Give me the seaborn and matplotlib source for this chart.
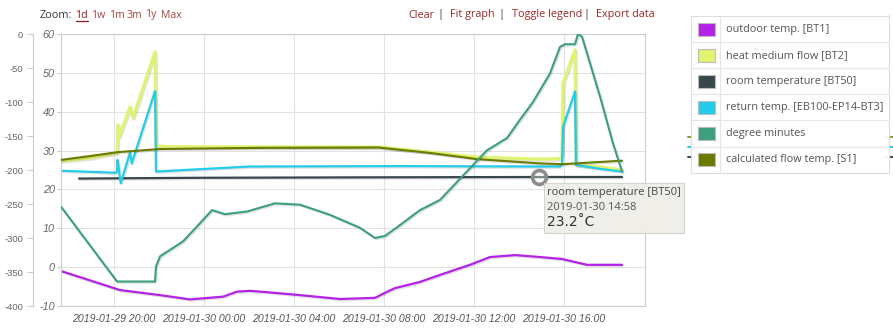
import matplotlib
matplotlib.use("Agg")
import matplotlib.pyplot as plt
import matplotlib.patheffects as pe
from matplotlib.patches import Rectangle
from matplotlib.lines import Line2D
import matplotlib.dates as mdates
import numpy as np
import pandas as pd
import seaborn as sns

W, H = 893, 328
base_time = pd.Timestamp("2019-01-30 00:00")

# ---------------- data (hours relative to 2019-01-30 00:00) ----------------
series_names = ["outdoor temp. [BT1]", "heat medium flow [BT2]", "room temperature [BT50]",
                "return temp. [EB100-EP14-BT3]", "degree minutes", "calculated flow temp. [S1]"]
series_colors = ["#b422e8", "#e2f372", "#37474a", "#22cdea", "#3c9f7f", "#6b7b00"]

outdoor_hours = [-6.356, -3.733, -1.956, -0.622, 0.844, 1.467, 2.044, 2.711, 4.267, 6.044, 7.6,
                 8.044, 8.489, 9.6, 10.489, 11.822, 12.711, 13.822, 14.933, 15.911, 17.022, 18.578]
outdoor_temp = [-1.0, -5.9, -7.2, -8.3, -7.6, -6.3, -6.1, -6.4, -7.2, -8.2, -7.9,
                -6.6, -5.4, -3.8, -2.0, 0.6, 2.6, 3.1, 2.6, 2.1, 0.6, 0.6]

flow_hours = [-6.356, -5.067, -3.867, -3.822, -3.778, -3.289, -3.156, -2.178, -2.133, -1.511, 7.822,
              10.044, 12.133, 14.933, 15.822, 15.911, 15.956, 16.489, 16.533, 17.6, 18.578]
flow_temp = [27.3, 28.1, 29.4, 36.6, 33.5, 41.2, 38.4, 55.4, 31.2, 31.0, 30.9,
             29.6, 28.3, 27.8, 27.9, 28.8, 47.4, 55.9, 26.3, 25.8, 25.0]

room_hours = [-5.556, -0.178, 6.489, 14.933, 18.578]
room_temp = [22.8, 23.0, 23.1, 23.2, 23.2]

return_hours = [-6.356, -3.911, -3.867, -3.844, -3.702, -3.289, -3.213, -2.178, -2.133, 2.044, 8.711,
                14.933, 15.822, 15.911, 15.956, 16.489, 16.533, 17.6, 18.578]
return_temp = [24.8, 24.3, 24.7, 27.6, 21.6, 29.5, 26.7, 45.3, 24.6, 25.9, 26.0,
               25.9, 25.9, 26.5, 36.1, 45.2, 26.3, 25.3, 24.6]

dm_hours = [-6.356, -3.867, -2.178, -2.133, -1.956, -0.933, -0.311, 0.356, 0.933, 1.911, 3.156,
            4.267, 5.6, 6.933, 7.6, 8.044, 8.711, 9.6, 10.489, 11.689, 12.578, 13.467, 14.044,
            14.622, 15.378, 15.822, 16.044, 16.489, 16.622, 16.8, 17.6, 18.178, 18.578]
dm_values = [-254, -364, -364, -342, -327, -305, -283, -259, -265, -261, -249,
             -251, -266, -285, -300, -297, -281, -259, -244, -202, -171, -153, -126,
             -100, -58, -19, -15, -15, 0, -4, -92, -161, -202]

calc_hours = [-6.356, -5.067, -3.822, -1.956, 2.489, 7.733, 10.044, 12.133, 14.933, 15.956, 18.578]
calc_temp = [27.6, 28.6, 29.6, 30.4, 30.7, 30.8, 29.4, 27.8, 26.7, 26.5, 27.4]

hover_hour = 14.9
hover_value = 23.2
hover_label = "2019-01-30 14:58"

temp_ticks = [-10, 0, 10, 20, 30, 40, 50, 60]
dm_ticks = [-400, -350, -300, -250, -200, -150, -100, -50, 0]
x_tick_hours = [-4, 0, 4, 8, 12, 16]
x_range_hours = [-6.356, 19.6]

zoom_items = ["1d", "1w", "1m", "3m", "1y", "Max"]
menu_items = ["Clear", "Fit graph", "Toggle legend", "Export data"]

# ---------------- style ----------------
sns.set_theme(style="white")
plt.rcParams["font.family"] = ["Liberation Sans", "DejaVu Sans"]
UI_FONT = ["Open Sans", "DejaVu Sans"]

fig = plt.figure(figsize=(W / 100, H / 100), dpi=100)
ax = fig.add_axes([61 / W, 1 - 306 / H, 584 / W, 272 / H])
tw = ax.twinx()


def to_times(hours):
    return base_time + pd.to_timedelta(np.asarray(hours, dtype=float), unit="h")


shadow = [pe.SimpleLineShadow(offset=(0.8, -0.9), shadow_color="k", alpha=0.13), pe.Normal()]


def draw(axis, hours, values, color, lw, z=2):
    df = pd.DataFrame({"time": to_times(hours), "value": values})
    sns.lineplot(data=df, x="time", y="value", ax=axis, color=color, lw=lw, sort=False,
                 estimator=None, path_effects=shadow, zorder=z)


draw(ax, outdoor_hours, outdoor_temp, series_colors[0], 1.6)
draw(ax, flow_hours, flow_temp, series_colors[1], 2.3)
draw(ax, room_hours, room_temp, series_colors[2], 1.6)
draw(ax, return_hours, return_temp, series_colors[3], 1.6)
draw(ax, calc_hours, calc_temp, series_colors[5], 1.5, z=3)
draw(tw, dm_hours, dm_values, series_colors[4], 1.5)

ax.plot(to_times([hover_hour]), [hover_value], marker="o", ms=10, mfc=(1, 1, 1, 0.35),
        mec="#8c8c8c", mew=2.6, zorder=10)

# axes limits / ticks
x0, x1 = to_times(x_range_hours)
ax.set_xlim(x0, x1)
ax.set_ylim(-10, 60)

xt = to_times(x_tick_hours)
ax.set_xticks(mdates.date2num(xt))
ax.set_xticklabels([t.strftime("%Y-%m-%d %H:%M") for t in xt], fontstyle="italic",
                   fontsize=7.6, color="#555555")
ax.set_yticks(temp_ticks)
ax.set_yticklabels([str(v) for v in temp_ticks], fontstyle="italic", fontsize=7.8, color="#666666")
ax.tick_params(axis="y", length=3, width=0.8, color="#cccccc", pad=1.5, left=True)
ax.tick_params(axis="x", length=0, pad=6)
ax.grid(True, color="#e2e2e2", lw=0.8)
ax.set_xlabel("")
ax.set_ylabel("")
for s in ax.spines.values():
    s.set_color("#cccccc")
    s.set_linewidth(0.8)

# degree-minutes axis on the far left
tw.yaxis.tick_left()
tw.yaxis.set_label_position("left")
tw.set_ylim(-400, 0)
tw.set_yticks(dm_ticks)
tw.set_yticklabels([str(v) for v in dm_ticks])
tw.tick_params(axis="y", which="both", length=4, width=0.8, color="#cccccc", pad=3,
               left=True, right=False, labelleft=True, labelright=False,
               labelsize=6.8, labelcolor="#666666")
for lbl in tw.get_yticklabels():
    lbl.set_fontstyle("italic")
tw.spines["left"].set_position(("outward", 28 * 0.72))
tw.spines["left"].set_visible(True)
tw.spines["left"].set_color("#cccccc")
tw.spines["left"].set_linewidth(0.8)
for k in ("right", "top", "bottom"):
    tw.spines[k].set_visible(False)
tw.set_ylabel("")
tw.set_xlabel("")
tw.grid(False)


# ---------------- figure-level decorations (pixel helpers) ----------------
def fx(x):
    return x / W


def fy(y):
    return 1 - y / H


# top-left zoom selector
fig.text(fx(40), fy(15), "Zoom:", fontsize=7.8, color="#333333", va="center", ha="left",
         family=UI_FONT)
zoom_x = [75.5, 91.5, 109, 126.5, 145.5, 160.5]
for i, (lbl, zx) in enumerate(zip(zoom_items, zoom_x)):
    col = "#8b1c1c" if i == 0 else "#a3453f"
    fig.text(fx(zx), fy(15), lbl, fontsize=7.6, color=col, va="center", ha="left", family=UI_FONT)
fig.add_artist(Line2D([fx(75.5), fx(87.5)], [fy(21), fy(21)], color="#8b1c1c", lw=0.9))

# top-right menu
menu_x = [408, 450, 511.5, 596.5]
sep_x = [440, 501.5, 586]
for lbl, mx in zip(menu_items, menu_x):
    fig.text(fx(mx), fy(15), lbl, fontsize=7.8, color="#982a2a", va="center", ha="left",
             family=UI_FONT)
for sx in sep_x:
    fig.text(fx(sx), fy(15), "|", fontsize=7.8, color="#333333", va="center", ha="center",
             family=UI_FONT)

# ghost marks behind legend (right edge)
fig.add_artist(Line2D([fx(889), fx(889)], [fy(14), fy(166)], color="#e4e4e4", lw=0.8, zorder=0.5))
for yy, cc in [(137, "#8a9a20"), (147, "#22cdea"), (157, "#37474a")]:
    fig.add_artist(Line2D([fx(884), fx(893)], [fy(yy), fy(yy)], color=cc, lw=1.4, zorder=0.5))
    fig.add_artist(Line2D([fx(688), fx(692)], [fy(yy), fy(yy)], color=cc, lw=1.4, zorder=0.5))

# legend box
lx0, lx1, ly0, ly1 = 691, 889, 16, 172.7
fig.add_artist(Rectangle((fx(lx0), fy(ly1)), (lx1 - lx0) / W, (ly1 - ly0) / H,
                         transform=fig.transFigure, facecolor="white", edgecolor="#dddddd",
                         lw=0.8, alpha=0.95, zorder=5))
row_h = (ly1 - ly0) / len(series_names)
for i in range(1, len(series_names)):
    yy = ly0 + i * row_h
    fig.add_artist(Line2D([fx(lx0), fx(lx1)], [fy(yy), fy(yy)], color="#e6e6e6", lw=0.8, zorder=6))
fig.add_artist(Line2D([fx(720), fx(720)], [fy(ly0), fy(ly1)], color="#e6e6e6", lw=0.8, zorder=6))
for i, (name, col) in enumerate(zip(series_names, series_colors)):
    cy = ly0 + (i + 0.5) * row_h
    fig.add_artist(Rectangle((fx(698), fy(cy + 6.5)), 16.5 / W, 13 / H, transform=fig.transFigure,
                             facecolor=col, edgecolor="#bbbbbb", lw=0.8, zorder=7))
    fig.text(fx(725.5), fy(cy), name, fontsize=7.8, color="#555555", va="center", ha="left",
             family=UI_FONT, zorder=8)

# tooltip
tx0, tx1, ty0, ty1 = 543.5, 684, 183, 232.5
fig.add_artist(Rectangle((fx(tx0), fy(ty1)), (tx1 - tx0) / W, (ty1 - ty0) / H,
                         transform=fig.transFigure, facecolor="#efeee9", edgecolor="#d4d3cc",
                         lw=0.8, alpha=0.97, zorder=20))
fig.text(fx(547), fy(192.5), series_names[2], fontsize=8, color="#444444", va="center", ha="left",
         family=UI_FONT, zorder=21)
fig.text(fx(547), fy(207.5), hover_label, fontsize=8, color="#555555", va="center", ha="left",
         family=UI_FONT, zorder=21)
fig.text(fx(546.5), fy(222.5), f"{hover_value}\u02daC", fontsize=10, color="#333333",
         va="center", ha="left", family=["DejaVu Sans"], zorder=21)

fig.savefig("out.png", dpi=100, facecolor="white")
